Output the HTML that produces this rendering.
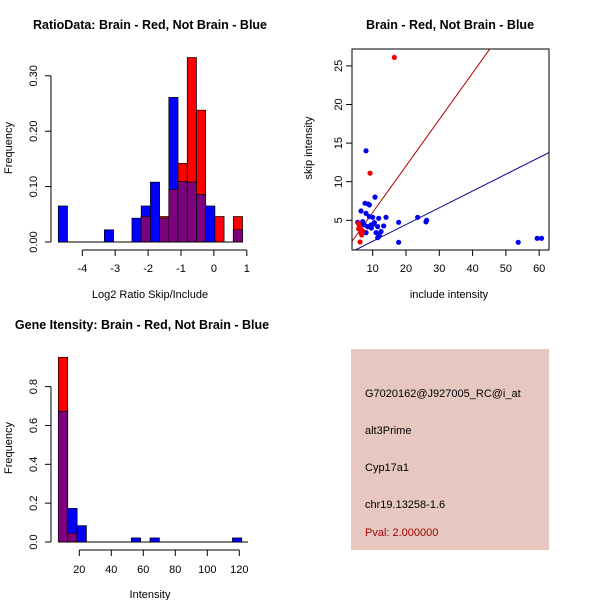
<!DOCTYPE html>
<html><head><meta charset="utf-8"><style>
body{margin:0;background:#fff}
svg{display:block;font-family:"Liberation Sans",sans-serif}
</style></head><body>
<svg id="s" width="600" height="600" viewBox="0 0 600 600">
<rect width="600" height="600" fill="#fff"/>
<g id="p1"></g>
<g id="p2"></g>
<g id="p3"></g>
<g>
<rect x="351" y="349" width="198" height="201" fill="#e6c8c0"/>
<text x="365" y="397" font-size="11" fill="#000">G7020162@J927005_RC@i_at</text>
<text x="365" y="434" font-size="11" fill="#000">alt3Prime</text>
<text x="365" y="471" font-size="11" fill="#000">Cyp17a1</text>
<text x="365" y="508" font-size="11" fill="#000">chr19.13258-1.6</text>
<text x="365" y="536" font-size="11" fill="#a00000">Pval: 2.000000</text>
</g>
</svg>
<script>
// ---- Panel 1 data: ratio histogram
const ratioBinStart = -4.73;
const ratioBinWidth = 0.28;
const ratioRed  = [0,0,0,0,0,0,0,0,0,0.046,0,0.046,0.095,0.142,0.333,0.238,0,0.046,0,0.046];
const ratioBlue = [0.065,0,0,0,0,0.022,0,0,0.043,0.065,0.108,0.043,0.261,0.109,0.108,0.086,0.065,0,0,0.022];
const ratioXTicks = [-4,-3,-2,-1,0,1];
const ratioYTicks = ["0.00","0.10","0.20","0.30"];
// ---- Panel 2 data: scatter
const blueX = [8,10.7,7.7,8.7,9,6.5,8,5.5,7,9,10,11.8,14,13.3,11.5,12.5,11,8,9.5,8.5,10.5,17.8,23.5,26,26.2,17.8,11.5,53.7,59.4,60.7,9.6,10.2,12,7.5,6.2];
const blueY = [14.0,8.0,7.2,7.1,7.0,6.2,5.9,4.74,4.83,5.48,5.39,5.26,5.39,4.27,4.18,3.53,3.40,3.40,4.40,4.18,4.70,4.74,5.39,4.8,5.0,2.15,2.75,2.15,2.67,2.67,4.0,4.5,3.0,4.4,4.5];
const redX = [16.5,9.2,5.7,6.0,6.5,7.0,6.2,6.7,5.8,6.4];
const redY = [26.1,11.1,4.6,4.2,3.8,3.6,2.2,3.1,3.9,3.4];
const blueFit = [0.11,0.217]; // intercept, slope
const redFit = [0.0,0.602];
const scXTicks = [10,20,30,40,50,60];
const scYTicks = [5,10,15,20,25];
// ---- Panel 3 data: intensity histogram
const intLefts = [6.9,12.8,18.6,52.5,64.2,115.7];
const intWidth = 5.85;
const intRed  = [0.951,0.045,0,0,0,0];
const intBlue = [0.673,0.173,0.084,0.021,0.021,0.021];
const intXTicks = [20,40,60,80,100,120];
const intYTicks = ["0.0","0.2","0.4","0.6","0.8"];

const NS="http://www.w3.org/2000/svg";
function mk(parent,tag,attrs,txt){const e=document.createElementNS(NS,tag);for(const k in attrs)e.setAttribute(k,attrs[k]);if(txt!==undefined)e.textContent=txt;parent.appendChild(e);return e;}

// Panel 1
(function(){
const g=document.getElementById('p1');
const X=v=>82.3+(v+4)*32.9, Y=v=>242-v*554;
const t=mk(g,'text',{x:150,y:29,'font-size':12.5,'font-weight':'bold','text-anchor':'middle'},'RatioData: Brain - Red, Not Brain - Blue');

for(let i=0;i<ratioRed.length;i++){
 const x0=X(ratioBinStart+i*ratioBinWidth),x1=X(ratioBinStart+(i+1)*ratioBinWidth);
 const r=ratioRed[i],b=ratioBlue[i],m=Math.min(r,b);
 if(r>0){const e=mk(g,'rect',{x:x0,y:Y(r),width:x1-x0,height:Y(0)-Y(r),fill:'#ff0000',stroke:'#000','stroke-width':0.7});
  }
 if(b>0){const e=mk(g,'rect',{x:x0,y:Y(b),width:x1-x0,height:Y(0)-Y(b),fill:'#0000ff',stroke:'#000','stroke-width':0.7});
  }
 if(m>0){const e=mk(g,'rect',{x:x0,y:Y(m),width:x1-x0,height:Y(0)-Y(m),fill:'#7f007f',stroke:'#000','stroke-width':0.7});
  }
}
mk(g,'line',{x1:X(ratioBinStart),x2:X(ratioBinStart+20*ratioBinWidth),y1:242,y2:242,stroke:'#000'});
mk(g,'line',{x1:X(-4),x2:X(1),y1:250,y2:250,stroke:'#000'});
ratioXTicks.forEach(v=>{mk(g,'line',{x1:X(v),x2:X(v),y1:250,y2:256,stroke:'#000'});
 const e=mk(g,'text',{x:X(v),y:272,'font-size':11,'text-anchor':'middle'},String(v));
 });
mk(g,'line',{x1:51,x2:51,y1:Y(0),y2:Y(0.3),stroke:'#000'});
ratioYTicks.forEach(s=>{const v=parseFloat(s),y=Y(v);mk(g,'line',{x1:45,x2:51,y1:y,y2:y,stroke:'#000'});
 const e=mk(g,'text',{x:37,y:y,'font-size':11,'text-anchor':'middle',transform:`rotate(-90 37 ${y})`},s);
 });
const xl=mk(g,'text',{x:150,y:298,'font-size':11,'text-anchor':'middle'},'Log2 Ratio Skip/Include');

const yl=mk(g,'text',{x:12,y:148,'font-size':11,'text-anchor':'middle',transform:'rotate(-90 12 148)'},'Frequency');

})();

// Panel 2
(function(){
const g=document.getElementById('p2');
const L=352,R=549,T=49,B=250;
const X=v=>372.7+(v-10)*3.33, Y=v=>220.3-(v-5)*7.72;
const t=mk(g,'text',{x:450,y:29,'font-size':12.5,'font-weight':'bold','text-anchor':'middle'},'Brain - Red, Not Brain - Blue');

mk(g,'defs',{}).innerHTML='<clipPath id="cp"><rect x="352" y="49" width="197" height="201"/></clipPath>';
const cg=mk(g,'g',{'clip-path':'url(#cp)'});
const xmin=3.5,xmax=64;
const bl=mk(cg,'line',{x1:X(xmin),y1:Y(blueFit[0]+blueFit[1]*xmin),x2:X(xmax),y2:Y(blueFit[0]+blueFit[1]*xmax),stroke:'#00008b','stroke-width':1});

const rl=mk(cg,'line',{x1:X(xmin),y1:Y(redFit[0]+redFit[1]*xmin),x2:X(xmax),y2:Y(redFit[0]+redFit[1]*xmax),stroke:'#b00000','stroke-width':1});

for(let i=0;i<blueX.length;i++){const c=mk(cg,'circle',{cx:X(blueX[i]),cy:Y(blueY[i]),r:2.6,fill:'#0000ee'});
 }
for(let i=0;i<redX.length;i++){const c=mk(cg,'circle',{cx:X(redX[i]),cy:Y(redY[i]),r:2.6,fill:'#ee0000'});
 }
mk(g,'rect',{x:L,y:T,width:R-L,height:B-T,fill:'none',stroke:'#000'});
scXTicks.forEach(v=>{mk(g,'line',{x1:X(v),x2:X(v),y1:B,y2:B+6,stroke:'#000'});
 const e=mk(g,'text',{x:X(v),y:272,'font-size':11,'text-anchor':'middle'},String(v));
 });
scYTicks.forEach(v=>{const y=Y(v);mk(g,'line',{x1:L-6,x2:L,y1:y,y2:y,stroke:'#000'});
 const e=mk(g,'text',{x:342,y:y,'font-size':11,'text-anchor':'middle',transform:`rotate(-90 342 ${y})`},String(v));
 });
const xl=mk(g,'text',{x:449,y:298,'font-size':11,'text-anchor':'middle'},'include intensity');

const yl=mk(g,'text',{x:312,y:148,'font-size':11,'text-anchor':'middle',transform:'rotate(-90 312 148)'},'skip intensity');

})();

// Panel 3
(function(){
const g=document.getElementById('p3');
const X=v=>79.3+(v-20)*1.6, Y=v=>542-v*194.2;
const t=mk(g,'text',{x:142,y:329,'font-size':12.5,'font-weight':'bold','text-anchor':'middle'},'Gene Itensity: Brain - Red, Not Brain - Blue');

for(let i=0;i<intLefts.length;i++){
 const x0=X(intLefts[i]),x1=X(intLefts[i]+intWidth);
 const r=intRed[i],b=intBlue[i],m=Math.min(r,b);
 if(r>0){const e=mk(g,'rect',{x:x0,y:Y(r),width:x1-x0,height:Y(0)-Y(r),fill:'#ff0000',stroke:'#000','stroke-width':0.7});
  }
 if(b>0){const e=mk(g,'rect',{x:x0,y:Y(b),width:x1-x0,height:Y(0)-Y(b),fill:'#0000ff',stroke:'#000','stroke-width':0.7});
  }
 if(m>0){const e=mk(g,'rect',{x:x0,y:Y(m),width:x1-x0,height:Y(0)-Y(m),fill:'#7f007f',stroke:'#000','stroke-width':0.7});
  }
}
mk(g,'line',{x1:X(intLefts[0]),x2:248,y1:542,y2:542,stroke:'#000'});
mk(g,'line',{x1:X(20),x2:X(120),y1:550,y2:550,stroke:'#000'});
intXTicks.forEach(v=>{mk(g,'line',{x1:X(v),x2:X(v),y1:550,y2:556,stroke:'#000'});
 const e=mk(g,'text',{x:X(v),y:573,'font-size':11,'text-anchor':'middle'},String(v));
 });
mk(g,'line',{x1:51,x2:51,y1:Y(0),y2:Y(0.8),stroke:'#000'});
intYTicks.forEach(s=>{const v=parseFloat(s),y=Y(v);mk(g,'line',{x1:45,x2:51,y1:y,y2:y,stroke:'#000'});
 const e=mk(g,'text',{x:37,y:y,'font-size':11,'text-anchor':'middle',transform:`rotate(-90 37 ${y})`},s);
 });
const xl=mk(g,'text',{x:150,y:598,'font-size':11,'text-anchor':'middle'},'Intensity');

const yl=mk(g,'text',{x:12,y:448,'font-size':11,'text-anchor':'middle',transform:'rotate(-90 12 448)'},'Frequency');

})();
</script>
</body></html>
